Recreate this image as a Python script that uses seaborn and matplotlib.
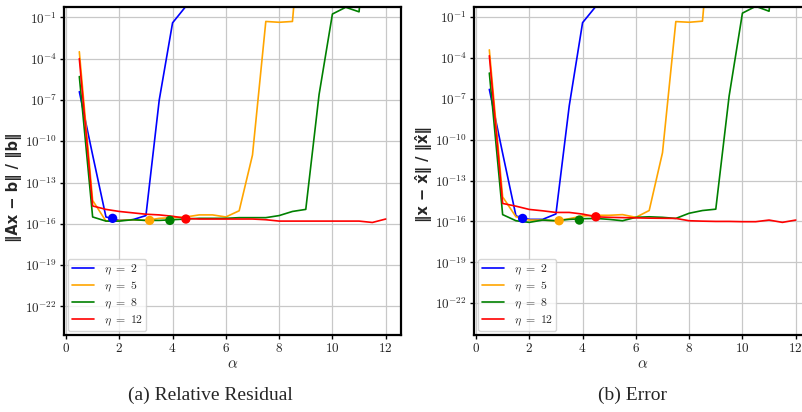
import numpy as np
import pandas as pd
import matplotlib
matplotlib.use("Agg")
import matplotlib.pyplot as plt
import matplotlib.ticker as mticker
import seaborn as sns

sns.set_theme(style="whitegrid")
plt.rcParams.update({'mathtext.fontset': 'cm', 'font.family': ['DejaVu Sans']})

alpha = [0.5, 1.0, 1.5, 2.0, 2.5, 3.0, 3.5, 4.0, 4.5, 5.0, 5.5, 6.0,
         6.5, 7.0, 7.5, 8.0, 8.5, 9.0, 9.5, 10.0, 10.5, 11.0, 11.5, 12.0]
etas = [2, 5, 8, 12]
nan = np.nan

# log10 of relative residual, one list per eta (10 = diverged, off the chart)
res_eta2 = [-6.4, -11.0, -15.5, -15.75, -15.7, -15.4, -7.0, -1.4, -0.2, 10] + [nan] * 14
res_eta5 = [-3.5, -14.3, -15.8, -15.75, -15.7, -15.75, -15.6, -15.55, -15.5, -15.35, -15.35, -15.5,
            -15.05, -11.0, -1.3, -1.36, -1.3, 10] + [nan] * 6
res_eta8 = [-5.3, -15.5, -15.8, -15.8, -15.7, -15.75, -15.75, -15.7, -15.65, -15.6, -15.6, -15.6,
            -15.55, -15.55, -15.55, -15.4, -15.1, -14.95, -6.6, -0.76, -0.27, -0.6, 10, nan]
res_eta12 = [-4.0, -14.7, -14.95, -15.1, -15.2, -15.3, -15.35, -15.45, -15.6, -15.65, -15.65, -15.65,
             -15.65, -15.65, -15.7, -15.8, -15.8, -15.8, -15.8, -15.8, -15.8, -15.8, -15.9, -15.65]

# log10 of relative error
err_eta2 = [-6.3, -11.0, -15.6, -15.85, -15.85, -15.45, -7.5, -1.4, -0.2, 10] + [nan] * 14
err_eta5 = [-3.4, -14.2, -15.66, -15.9, -15.9, -15.95, -15.8, -15.6, -15.55, -15.55, -15.5, -15.7,
            -15.2, -10.95, -1.32, -1.37, -1.29, 10] + [nan] * 6
err_eta8 = [-5.1, -15.5, -15.95, -16.07, -15.9, -15.95, -15.85, -15.8, -15.78, -15.85, -15.95, -15.7,
            -15.66, -15.7, -15.78, -15.4, -15.2, -15.1, -6.8, -0.7, -0.2, -0.56, 10, nan]
err_eta12 = [-3.83, -14.68, -14.88, -15.12, -15.22, -15.34, -15.34, -15.46, -15.66, -15.7, -15.72, -15.74,
             -15.76, -15.77, -15.78, -15.95, -15.98, -16.0, -16.0, -16.02, -16.02, -15.9, -16.07, -15.9]

# optimal alpha markers
opt_alpha_res = [1.75, 3.14, 3.9, 4.5]
opt_res = [-15.6, -15.75, -15.75, -15.65]
opt_alpha_err = [1.75, 3.12, 3.88, 4.5]
opt_err = [-15.78, -15.95, -15.9, -15.66]

ytick_exp = [-22, -19, -16, -13, -10, -7, -4, -1]
xticks = [0, 2, 4, 6, 8, 10, 12]

labels = [rf'$\eta\ =\ {e}$' for e in etas]
palette = dict(zip(labels, ['blue', 'orange', 'green', 'red']))


def long_frame(series):
    rows = []
    for lab, vals in zip(labels, series):
        for a, v in zip(alpha, vals):
            if not np.isnan(v):
                rows.append({'alpha': a, 'value': 10.0 ** v, 'eta': lab})
    return pd.DataFrame(rows)


def opt_frame(xs, ys):
    return pd.DataFrame({'alpha': xs, 'value': [10.0 ** y for y in ys], 'eta': labels})


fig = plt.figure(figsize=(8.03, 4.12), dpi=100)
ax1 = fig.add_axes([0.0797, 0.186, 0.4197, 0.797])
ax2 = fig.add_axes([0.5903, 0.186, 0.4197, 0.797])

panels = [
    (ax1, long_frame([res_eta2, res_eta5, res_eta8, res_eta12]), opt_frame(opt_alpha_res, opt_res),
     '‖Ax − b‖ / ‖b‖', (10 ** -24.1, 10 ** -0.25), 0.45),
    (ax2, long_frame([err_eta2, err_eta5, err_eta8, err_eta12]), opt_frame(opt_alpha_err, opt_err),
     '‖x − x̂‖ / ‖x̂‖', (10 ** -24.37, 10 ** -0.25), 0.49),
]

for ax, df, df_opt, ylab, ylim, ly in panels:
    sns.lineplot(data=df, x='alpha', y='value', hue='eta', hue_order=labels, palette=palette,
                 linewidth=1.2, ax=ax, estimator=None, sort=True)
    sns.scatterplot(data=df_opt, x='alpha', y='value', hue='eta', hue_order=labels, palette=palette,
                    s=45, edgecolor='none', legend=False, ax=ax, zorder=3)
    ax.set_yscale('log')
    ax.set_ylim(*ylim)
    ax.set_xlim(-0.075, 12.575)
    ax.yaxis.set_major_locator(mticker.FixedLocator([10.0 ** e for e in ytick_exp]))
    ax.yaxis.set_minor_locator(mticker.NullLocator())
    ax.yaxis.set_major_formatter(mticker.FuncFormatter(
        lambda v, p: r'$\mathbf{10^{%d}}$' % int(round(np.log10(v)))))
    ax.set_xticks(xticks)
    ax.xaxis.set_major_formatter(mticker.FuncFormatter(lambda v, p: r'$\mathbf{%d}$' % v))
    ax.tick_params(axis='both', labelsize=9.5, left=True, bottom=True, length=3, width=1,
                   color='black', pad=2)
    ax.grid(True, color='#c8c8c8', linewidth=0.9)
    for sp in ax.spines.values():
        sp.set_color('black')
        sp.set_linewidth(1.6)
    ax.set_xlabel(r'$\alpha$', fontsize=11, labelpad=1)
    ax.set_ylabel(ylab, fontsize=10.5, fontweight='bold', labelpad=2)
    ax.yaxis.set_label_coords(-0.125, ly)
    sns.move_legend(ax, 'lower left', title=None, fontsize=8.5, frameon=True,
                    borderaxespad=0.35, borderpad=0.3, handlelength=1.9,
                    handletextpad=0.8, labelspacing=0.2)
    ax.get_legend().get_frame().set_edgecolor('#cccccc')

fig.text(0.2615, 0.041, '(a) Relative Residual', ha='center', va='center',
         family='Liberation Serif', fontsize=14)
fig.text(0.788, 0.041, '(b) Error', ha='center', va='center',
         family='Liberation Serif', fontsize=14)

fig.savefig('out.png', dpi=100)
